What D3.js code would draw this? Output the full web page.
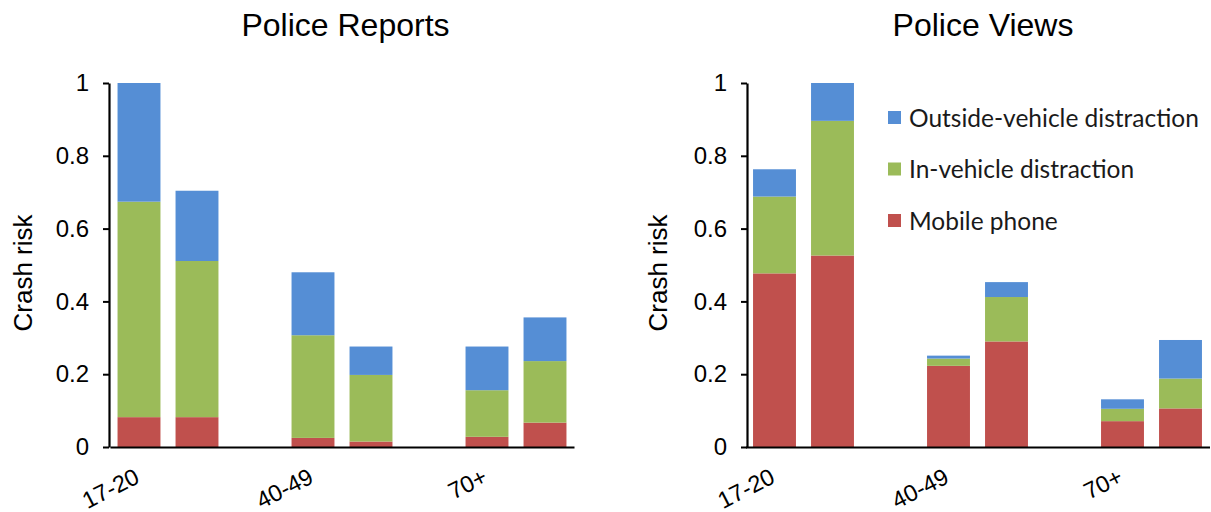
<!DOCTYPE html>
<html><head><meta charset="utf-8">
<script src="https://cdn.jsdelivr.net/npm/d3@7"></script>
<style>body{margin:0;background:#fff} svg{display:block}</style>
</head><body><svg id="chart" width="1211" height="512"></svg>
<script>
// ---- data ----
const slots = ["17-20","17-20 b","gap 1","40-49","40-49 b","gap 2","70+","70+ b"];
const slotLabels = ["17-20","","","40-49","","","70+",""];
const seriesKeys = ["mobile","inVehicle","outside"];
const seriesNames = ["Mobile phone","In-vehicle distraction","Outside-vehicle distraction"];
const seriesColors = ["#C0504D","#9BBB59","#558ED5"];
const reportsMobile    = [0.082,0.082,0,0.025,0.015,0,0.028,0.067];
const reportsInVehicle = [0.592,0.429,0,0.282,0.183,0,0.128,0.169];
const reportsOutside   = [0.326,0.193,0,0.173,0.078,0,0.120,0.120];
const viewsMobile      = [0.477,0.526,0,0.223,0.290,0,0.071,0.106];
const viewsInVehicle   = [0.211,0.370,0,0.020,0.122,0,0.034,0.082];
const viewsOutside     = [0.075,0.104,0,0.008,0.041,0,0.026,0.106];
const yTicks = [0,0.2,0.4,0.6,0.8,1];
const yTickLabels = ["0","0.2","0.4","0.6","0.8","1"];
const panelTitles = ["Police Reports","Police Views"];
const yAxisTitle = "Crash risk";

const svg = d3.select("#chart");
const FONT = "'Liberation Sans', Arial, sans-serif";
const y = d3.scaleLinear().domain([0,1]).range([447,83]);

function rows(m, iv, o){
  return slots.map((s,i)=>({slot:s, mobile:m[i], inVehicle:iv[i], outside:o[i]}));
}
const panels = [
  {title:panelTitles[0], data:rows(reportsMobile,reportsInVehicle,reportsOutside), axisX:109, r0:110, r1:574, titleX:345.5, yLabX:23, legend:false},
  {title:panelTitles[1], data:rows(viewsMobile,viewsInVehicle,viewsOutside), axisX:747, r0:745.5, r1:1209.5, titleX:983, yLabX:658, legend:true}
];

const stack = d3.stack().keys(seriesKeys);

panels.forEach(p=>{
  const x = d3.scaleBand().domain(slots).range([p.r0,p.r1]).paddingInner(0.26).paddingOuter(0.13);
  const g = svg.append("g");
  const layers = stack(p.data);
  g.selectAll("g.layer").data(layers).join("g")
    .attr("fill",(d,i)=>seriesColors[i])
    .selectAll("rect").data(d=>d).join("rect")
      .attr("x",d=>x(d.data.slot))
      .attr("width",x.bandwidth())
      .attr("y",d=>y(d[1]))
      .attr("height",d=>Math.max(0,y(d[0])-y(d[1])));

  // x axis
  const xa = g.append("g").attr("transform","translate(0,447)")
    .call(d3.axisBottom(x).tickSize(0).tickSizeOuter(0).tickFormat((d,i)=>slotLabels[i]));
  xa.select(".domain").attr("stroke","#000").attr("stroke-width",2.2);
  xa.selectAll("text")
    .attr("font-family",FONT).attr("font-size",23.5).attr("fill","#000")
    .attr("text-anchor","end").attr("x",2).attr("y",35).attr("dy",0)
    .attr("transform","rotate(-27,2,35)");

  // y axis
  const ya = g.append("g").attr("transform",`translate(${p.axisX},0)`)
    .call(d3.axisLeft(y).tickValues(yTicks).tickFormat((d,i)=>yTickLabels[i]).tickSize(6).tickSizeOuter(0).tickPadding(14));
  ya.select(".domain").attr("stroke","#000").attr("stroke-width",2.2);
  ya.selectAll(".tick line").attr("stroke","#000").attr("stroke-width",2);
  ya.selectAll("text").attr("font-family",FONT).attr("font-size",24).attr("fill","#000");

  // titles
  g.append("text").attr("x",p.titleX).attr("y",36).attr("text-anchor","middle")
    .attr("font-family",FONT).attr("font-size",32).attr("fill","#000").text(p.title);
  g.append("text").attr("transform",`translate(${p.yLabX},273) rotate(-90)`)
    .attr("text-anchor","middle").attr("dy","0.35em")
    .attr("font-family",FONT).attr("font-size",26).attr("fill","#000").text(yAxisTitle);

  if(p.legend){
    const order = [2,1,0];
    const ly = [118,169.5,221];
    const lg = g.append("g");
    order.forEach((si,j)=>{
      lg.append("rect").attr("x",888).attr("y",ly[j]-7).attr("width",13).attr("height",13).attr("fill",seriesColors[si]);
      lg.append("text").attr("x",909).attr("y",ly[j]).attr("dy","0.35em")
        .attr("font-family","Lato, 'Open Sans', sans-serif").attr("font-size",24.5).attr("fill","#1a1a1a")
        .text(seriesNames[si]);
    });
  }
});
</script></body></html>
